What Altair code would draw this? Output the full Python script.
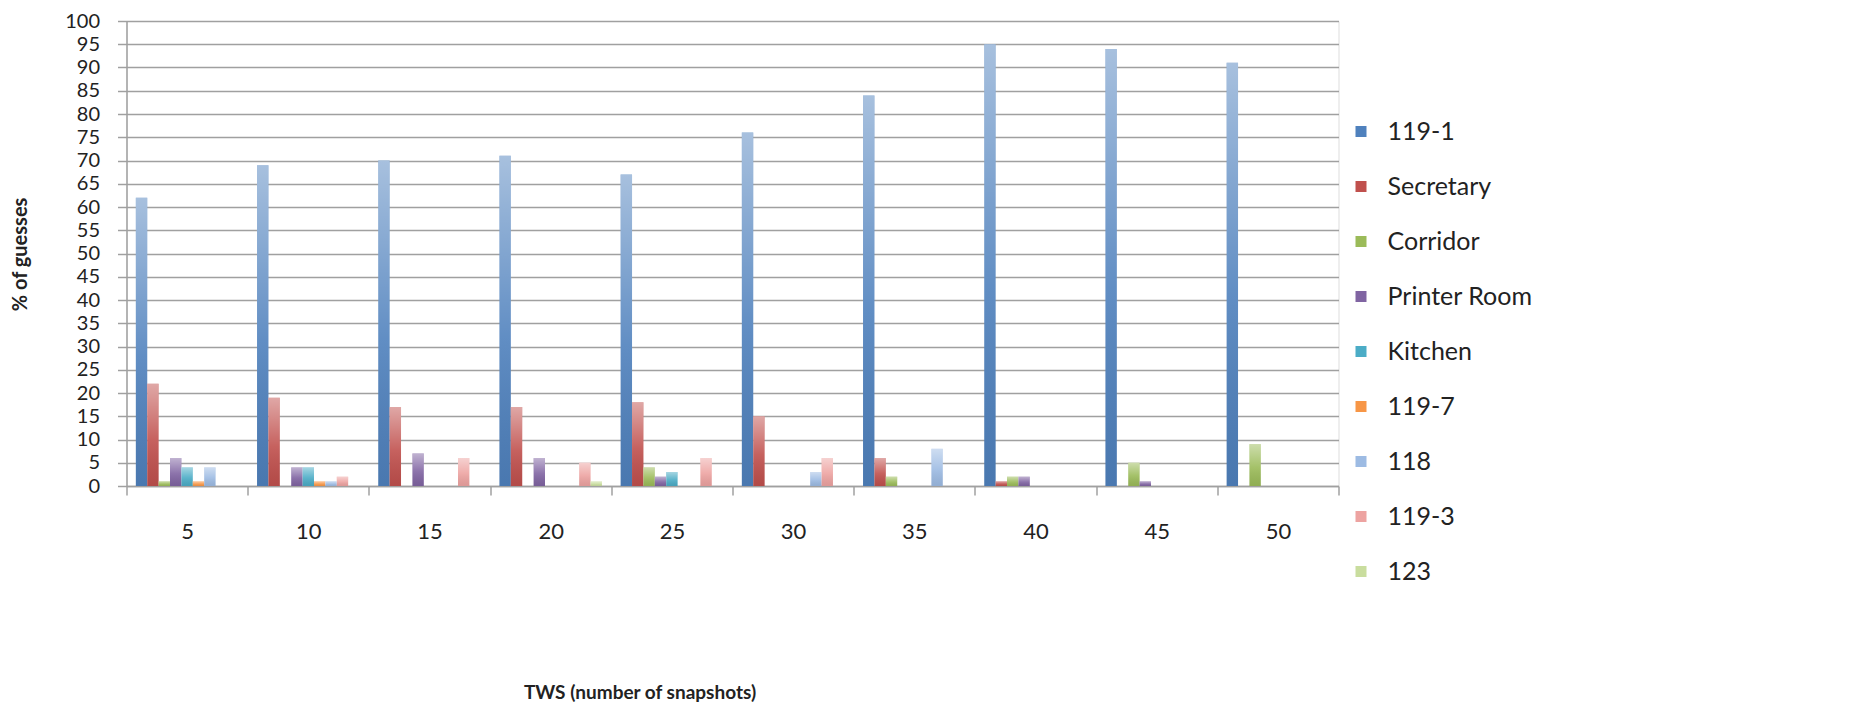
import altair as alt
import pandas as pd

tws = ["5", "10", "15", "20", "25", "30", "35", "40", "45", "50"]
series = ["119-1", "Secretary", "Corridor", "Printer Room", "Kitchen",
          "119-7", "118", "119-3", "123"]
colors = ["#4f81bd", "#c0504d", "#9bbb59", "#8064a2", "#4bacc6",
          "#f79646", "#9dbbe3", "#eda3a1", "#c9dd9e"]
y_ticks = list(range(0, 101, 5))

v_119_1 = [62, 69, 70, 71, 67, 76, 84, 95, 94, 91]
v_secretary = [22, 19, 17, 17, 18, 15, 6, 1, 0, 0]
v_corridor = [1, 0, 0, 0, 4, 0, 2, 2, 5, 9]
v_printer = [6, 4, 7, 6, 2, 0, 0, 2, 1, 0]
v_kitchen = [4, 4, 0, 0, 3, 0, 0, 0, 0, 0]
v_119_7 = [1, 1, 0, 0, 0, 0, 0, 0, 0, 0]
v_118 = [4, 1, 0, 0, 0, 3, 8, 0, 0, 0]
v_119_3 = [0, 2, 6, 5, 6, 6, 0, 0, 0, 0]
v_123 = [0, 0, 0, 1, 0, 0, 0, 0, 0, 0]

values = [v_119_1, v_secretary, v_corridor, v_printer, v_kitchen,
          v_119_7, v_118, v_119_3, v_123]

rows = []
for s, vals in zip(series, values):
    for t, v in zip(tws, vals):
        rows.append({"tws": t, "series": s, "value": v})
df = pd.DataFrame(rows)

FONT = "Lato"
GRID = "#a0a0a0"

x_axis = alt.Axis(title="TWS (number of snapshots)", labelAngle=0,
                  tickBand="extent", grid=False,
                  domainColor=GRID, domainWidth=1.5,
                  tickColor=GRID, tickWidth=1.5, tickSize=9,
                  labelFont=FONT, labelFontSize=22, labelColor="#222",
                  labelPadding=26,
                  titleFont=FONT, titleFontSize=19, titleFontWeight="bold",
                  titleColor="#222", titleX=513, titleY=206,
                  titleAlign="center", titleBaseline="middle")
y_axis = alt.Axis(title="% of guesses", values=y_ticks, labelOverlap=False,
                  grid=True, gridColor=GRID, gridWidth=1.5,
                  domainColor=GRID, domainWidth=1.5,
                  tickColor=GRID, tickWidth=1.5, tickSize=9,
                  labelFont=FONT, labelFontSize=20, labelColor="#222",
                  labelPadding=18,
                  titleFont=FONT, titleFontSize=20, titleFontWeight="bold",
                  titleColor="#222", titleX=-106, titleY=233,
                  titleAlign="center", titleBaseline="middle")

x_enc = alt.X("tws:N", sort=tws,
              scale=alt.Scale(paddingInner=0, paddingOuter=0), axis=x_axis)
xo_enc = alt.XOffset("series:N", sort=series,
                     scale=alt.Scale(paddingInner=0, paddingOuter=0.82))
y_enc = alt.Y("value:Q", scale=alt.Scale(domain=[0, 100], nice=False),
              axis=y_axis)

base = alt.Chart(df).mark_bar().encode(
    x=x_enc, xOffset=xo_enc, y=y_enc,
    color=alt.Color("series:N", sort=series,
                    scale=alt.Scale(domain=series, range=colors),
                    legend=alt.Legend(title=None, orient="none",
                                      legendX=1222, legendY=98,
                                      symbolType="square", symbolSize=121,
                                      symbolStrokeWidth=0,
                                      labelFont=FONT, labelFontSize=25,
                                      labelColor="#222",
                                      rowPadding=29, labelOffset=14, padding=0))
)

grad = alt.LinearGradient(
    gradient="linear", x1=0, x2=0, y1=0, y2=1,
    stops=[alt.GradientStop(offset=0, color="rgba(255,255,255,0.5)"),
           alt.GradientStop(offset=0.55, color="rgba(255,255,255,0.1)"),
           alt.GradientStop(offset=1, color="rgba(0,0,0,0.07)")])

overlay = alt.Chart(df).mark_bar(fill=grad).encode(
    x=x_enc, xOffset=xo_enc, y=y_enc
)

chart = alt.layer(base, overlay).properties(
    width=1212, height=465,
    padding={"left": 118.5, "top": 13, "right": 507.5, "bottom": 219},
    autosize="none"
).configure_view(stroke=None).configure(background="white")

chart.save("out.html", embed_options={"renderer": "svg", "actions": False})
